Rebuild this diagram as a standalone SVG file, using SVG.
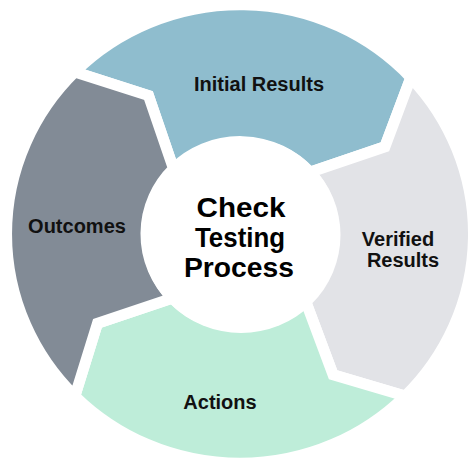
<svg xmlns="http://www.w3.org/2000/svg" width="468" height="459" viewBox="0 0 468 459">
  <style>
    .seg { stroke: #ffffff; stroke-width: 11; stroke-linejoin: miter; }
    .lbl { font-family: "Liberation Sans", Arial, sans-serif; font-weight: bold; font-size: 20px; fill: #111111; text-anchor: middle; }
    .ctr { font-family: "Liberation Sans", Arial, sans-serif; font-weight: bold; font-size: 27px; fill: #000000; text-anchor: middle; }
  </style>
  <rect width="468" height="459" fill="#ffffff"/>
  <g id="connectors"></g>
  <g id="initial-results">
    <path class="seg" fill="#8FBDCE" d="M 74.9 71.9 A 233.5 229.3 0 0 1 410.8 77.6 L 384.9 146.8 L 309.9 172.2 A 94 92.3 0 0 0 173.5 168.7 L 148.5 95.6 Z"/>
    <text class="lbl" x="259" y="91">Initial Results</text>
  </g>
  <g id="verified-results">
    <path class="seg" fill="#E2E3E7" d="M 410.8 77.6 A 233.5 229.3 0 0 1 405.1 396.1 L 333.1 374.8 L 305.3 300.4 A 94 92.3 0 0 0 309.9 172.2 L 384.9 146.8 Z"/>
    <text class="lbl" x="398" y="246">Verified</text>
    <text class="lbl" x="403" y="267">Results</text>
  </g>
  <g id="actions">
    <path class="seg" fill="#BEEDD9" d="M 405.1 396.1 A 233.5 229.3 0 0 1 74.9 396.1 L 97.5 323.2 L 172.4 298.1 A 94 92.3 0 0 0 305.3 300.4 L 333.1 374.8 Z"/>
    <text class="lbl" x="220" y="409">Actions</text>
  </g>
  <g id="outcomes">
    <path class="seg" fill="#828B96" d="M 74.9 396.1 A 233.5 229.3 0 0 1 74.9 71.9 L 148.5 95.6 L 173.5 168.7 A 94 92.3 0 0 0 172.4 298.1 L 97.5 323.2 Z"/>
    <text class="lbl" x="77" y="233">Outcomes</text>
  </g>
  <g id="center">
    <ellipse cx="241" cy="235" rx="99.5" ry="98" fill="#ffffff"/>
    <text class="ctr" x="241" y="217" textLength="89" lengthAdjust="spacingAndGlyphs">Check</text>
    <text class="ctr" x="240" y="247" textLength="90" lengthAdjust="spacingAndGlyphs">Testing</text>
    <text class="ctr" x="239" y="277" textLength="110" lengthAdjust="spacingAndGlyphs">Process</text>
  </g>
</svg>
